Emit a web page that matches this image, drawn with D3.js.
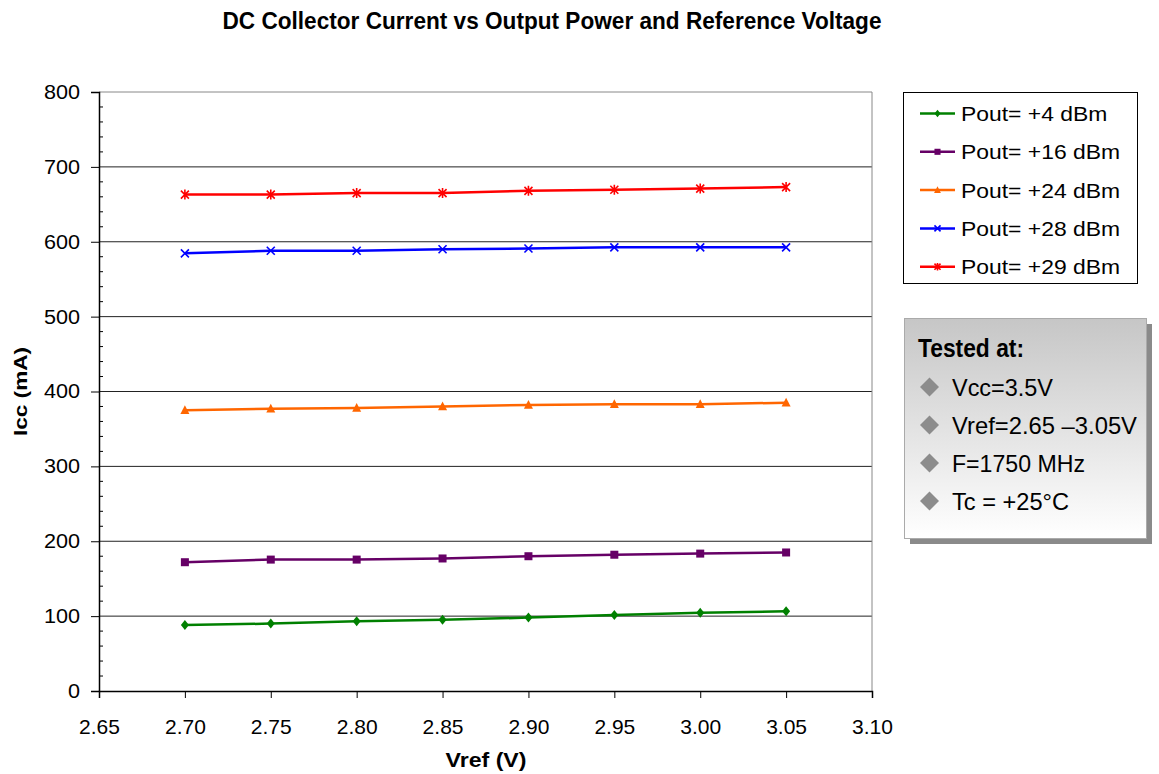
<!DOCTYPE html>
<html>
<head>
<meta charset="utf-8">
<script src="https://cdn.jsdelivr.net/npm/d3@7"></script>
<style>
  body { margin: 0; background: #fff; }
  svg text { font-family: "Liberation Sans", Arial, sans-serif; }
</style>
</head>
<body>
<div id="chart"></div>
<script>
const vref = [2.70, 2.75, 2.80, 2.85, 2.90, 2.95, 3.00, 3.05];
const pout4 = [88, 90, 93, 95, 98, 101.5, 104.5, 106.5];
const pout16 = [172, 175.5, 175.5, 177, 180, 182, 183.5, 185];
const pout24 = [375, 377, 378, 380, 382, 383, 383, 385];
const pout28 = [584.5, 588, 588, 590, 591, 592.5, 592.5, 592.5];
const pout29 = [663, 663, 665, 665, 668, 669.5, 671, 673];
const seriesNames = ["Pout= +4 dBm", "Pout= +16 dBm", "Pout= +24 dBm", "Pout= +28 dBm", "Pout= +29 dBm"];
const xTicks = [2.65, 2.70, 2.75, 2.80, 2.85, 2.90, 2.95, 3.00, 3.05, 3.10];
const yTicks = [0, 100, 200, 300, 400, 500, 600, 700, 800];
const notes = ["Vcc=3.5V", "Vref=2.65 \u20133.05V", "F=1750 MHz", "Tc = +25\u00b0C"];

const series = [
  { name: seriesNames[0], values: pout4, color: "#008000", marker: "diamond" },
  { name: seriesNames[1], values: pout16, color: "#660066", marker: "square" },
  { name: seriesNames[2], values: pout24, color: "#ff6600", marker: "triangle" },
  { name: seriesNames[3], values: pout28, color: "#0000ff", marker: "x" },
  { name: seriesNames[4], values: pout29, color: "#ff0000", marker: "star" },
];

const W = 1159, H = 774;
const svg = d3.select("#chart").append("svg").attr("width", W).attr("height", H);

const x = d3.scaleLinear().domain([2.65, 3.10]).range([99, 872]);
const y = d3.scaleLinear().domain([0, 800]).range([691, 92]);

// stretch or squeeze a text to the width seen in the picture
function fit(sel, factor) {
  sel.each(function () {
    const w = this.getComputedTextLength();
    d3.select(this).attr("textLength", w * factor).attr("lengthAdjust", "spacingAndGlyphs");
  });
}

// title
svg.append("text")
  .attr("x", 552).attr("y", 29).attr("text-anchor", "middle")
  .attr("font-size", 24).attr("font-weight", "bold")
  .attr("textLength", 659).attr("lengthAdjust", "spacingAndGlyphs")
  .text("DC Collector Current vs Output Power and Reference Voltage");

// gridlines
svg.append("g").selectAll("line").data(yTicks.filter(d => d > 0))
  .join("line")
  .attr("x1", x(2.65)).attr("x2", x(3.10))
  .attr("y1", d => y(d)).attr("y2", d => y(d))
  .attr("stroke", d => d === 800 ? "#888" : "#222").attr("stroke-width", 1);

// right frame
svg.append("line").attr("x1", x(3.10)).attr("x2", x(3.10))
  .attr("y1", y(800)).attr("y2", y(0)).attr("stroke", "#888");

// y axis
const yAxis = svg.append("g").attr("transform", `translate(${x(2.65)},0)`)
  .call(d3.axisLeft(y).tickValues(yTicks).tickSize(8).tickPadding(11).tickFormat(d3.format("d")));
yAxis.selectAll("text").attr("font-size", 20).attr("fill", "#000")
  .style("font-family", "'Liberation Sans', Arial, sans-serif");
fit(yAxis.selectAll("text"), 1.08);
yAxis.select(".domain").attr("stroke", "#000").attr("stroke-width", 1.5);
yAxis.selectAll(".tick line").attr("stroke", "#000");
// minor ticks
svg.append("g").selectAll("line").data(d3.range(0, 801, 20).filter(d => d % 100 !== 0))
  .join("line")
  .attr("x1", x(2.65)).attr("x2", x(2.65) + 4)
  .attr("y1", d => y(d)).attr("y2", d => y(d)).attr("stroke", "#000");

// x axis
const xAxis = svg.append("g").attr("transform", `translate(0,${y(0)})`)
  .call(d3.axisBottom(x).tickValues(xTicks).tickSize(7).tickPadding(21).tickFormat(d3.format(".2f")));
xAxis.selectAll("text").attr("font-size", 21).attr("fill", "#000")
  .style("font-family", "'Liberation Sans', Arial, sans-serif");
xAxis.select(".domain").attr("stroke", "#000").attr("stroke-width", 1.5);
xAxis.selectAll(".tick line").attr("stroke", "#000");

// axis labels
svg.append("text")
  .attr("x", 486).attr("y", 767).attr("text-anchor", "middle")
  .attr("font-size", 21).attr("font-weight", "bold")
  .attr("textLength", 81).attr("lengthAdjust", "spacingAndGlyphs").text("Vref (V)");
svg.append("text")
  .attr("transform", `translate(27,${y(400)}) rotate(-90)`)
  .attr("text-anchor", "middle").attr("font-size", 19).attr("font-weight", "bold")
  .attr("textLength", 89).attr("lengthAdjust", "spacingAndGlyphs")
  .text("Icc (mA)");

function drawMarker(g, type, color, size) {
  const s = size;
  if (type === "diamond") {
    g.append("path").attr("d", `M0,${-s}L${s * 0.8},0L0,${s}L${-s * 0.8},0Z`).attr("fill", color);
  } else if (type === "square") {
    g.append("rect").attr("x", -s * 0.8).attr("y", -s * 0.8).attr("width", s * 1.6).attr("height", s * 1.6).attr("fill", color);
  } else if (type === "triangle") {
    g.append("path").attr("d", `M0,${-s}L${s * 0.9},${s * 0.75}L${-s * 0.9},${s * 0.75}Z`).attr("fill", color);
  } else if (type === "x") {
    g.append("path").attr("d", `M${-s * 0.8},${-s * 0.8}L${s * 0.8},${s * 0.8}M${-s * 0.8},${s * 0.8}L${s * 0.8},${-s * 0.8}`)
      .attr("stroke", color).attr("stroke-width", 1.6);
  } else if (type === "star") {
    g.append("path").attr("d", `M${-s * 0.8},${-s * 0.8}L${s * 0.8},${s * 0.8}M${-s * 0.8},${s * 0.8}L${s * 0.8},${-s * 0.8}M0,${-s}L0,${s}`)
      .attr("stroke", color).attr("stroke-width", 1.6);
  }
}

const line = d3.line().x(d => x(d[0])).y(d => y(d[1]));

series.forEach(s => {
  const pts = vref.map((v, i) => [v, s.values[i]]);
  svg.append("path").datum(pts)
    .attr("fill", "none").attr("stroke", s.color).attr("stroke-width", 2.5)
    .attr("d", line);
  pts.forEach(p => {
    const g = svg.append("g").attr("transform", `translate(${x(p[0])},${y(p[1])})`);
    drawMarker(g, s.marker, s.color, 5);
  });
});

// legend
const leg = svg.append("g");
leg.append("rect").attr("x", 903.5).attr("y", 92.5).attr("width", 234).attr("height", 191)
  .attr("fill", "#fff").attr("stroke", "#000");
series.forEach((s, i) => {
  const ly = 113.5 + i * 38.3;
  leg.append("line").attr("x1", 920).attr("x2", 955).attr("y1", ly).attr("y2", ly)
    .attr("stroke", s.color).attr("stroke-width", 2.5);
  const g = leg.append("g").attr("transform", `translate(937.5,${ly})`);
  drawMarker(g, s.marker, s.color, 3.8);
  const t = leg.append("text").attr("x", 961).attr("y", ly + 7.5).attr("font-size", 21).text(s.name);
  fit(t, 1.09);
});

// tested-at box
const defs = svg.append("defs");
const grad = defs.append("linearGradient").attr("id", "boxgrad").attr("x1", 0).attr("y1", 0).attr("x2", 0).attr("y2", 1);
grad.append("stop").attr("offset", "0%").attr("stop-color", "#c6c6c6");
grad.append("stop").attr("offset", "100%").attr("stop-color", "#ffffff");

svg.append("rect").attr("x", 910).attr("y", 324).attr("width", 242).attr("height", 220).attr("fill", "#8a8a8a");
svg.append("rect").attr("x", 904.5).attr("y", 318.5).attr("width", 242).attr("height", 220)
  .attr("fill", "url(#boxgrad)").attr("stroke", "#aaa");
svg.append("text").attr("x", 918).attr("y", 357)
  .attr("font-size", 25).attr("font-weight", "bold")
  .attr("textLength", 106).attr("lengthAdjust", "spacingAndGlyphs").text("Tested at:");
const noteWidths = [101, 185, 133, 117];
notes.forEach((t, i) => {
  const ny = 387 + i * 38;
  svg.append("path").attr("transform", `translate(929.5,${ny})`)
    .attr("d", "M0,-9.5L9.5,0L0,9.5L-9.5,0Z").attr("fill", "#8c8c8c");
  svg.append("text").attr("x", 952).attr("y", ny + 9)
    .attr("font-size", 24)
    .attr("textLength", noteWidths[i]).attr("lengthAdjust", "spacingAndGlyphs").text(t);
});
</script>
</body>
</html>
